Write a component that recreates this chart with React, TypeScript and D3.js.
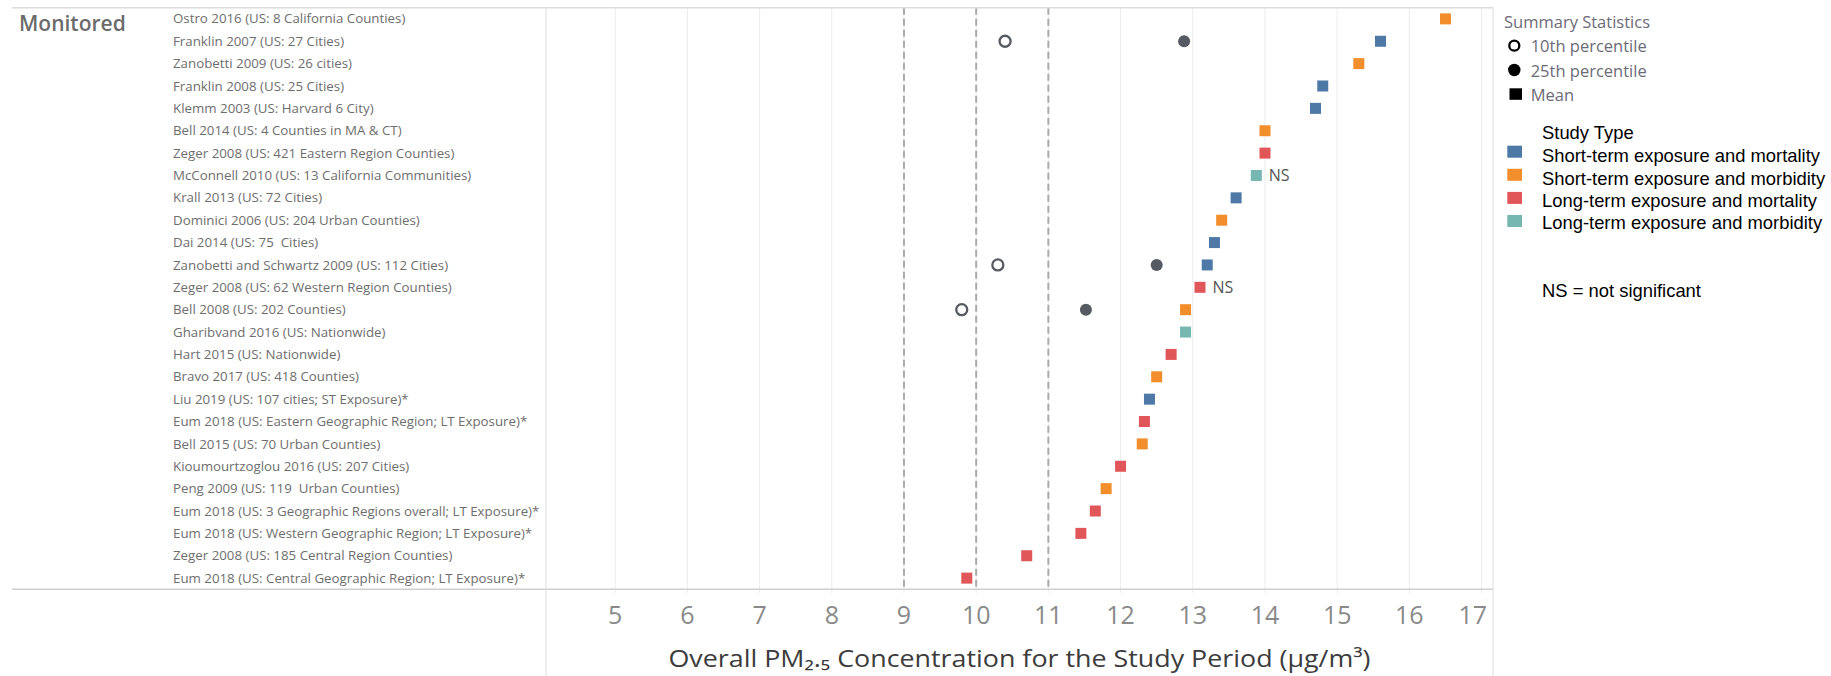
import React from "react";
import * as d3 from "d3";

const studies: string[] = [
  "Ostro 2016 (US: 8 California Counties)",
  "Franklin 2007 (US: 27 Cities)",
  "Zanobetti 2009 (US: 26 cities)",
  "Franklin 2008 (US: 25 Cities)",
  "Klemm 2003 (US: Harvard 6 City)",
  "Bell 2014 (US: 4 Counties in MA & CT)",
  "Zeger 2008 (US: 421 Eastern Region Counties)",
  "McConnell 2010 (US: 13 California Communities)",
  "Krall 2013 (US: 72 Cities)",
  "Dominici 2006 (US: 204 Urban Counties)",
  "Dai 2014 (US: 75  Cities)",
  "Zanobetti and Schwartz 2009 (US: 112 Cities)",
  "Zeger 2008 (US: 62 Western Region Counties)",
  "Bell 2008 (US: 202 Counties)",
  "Gharibvand 2016 (US: Nationwide)",
  "Hart 2015 (US: Nationwide)",
  "Bravo 2017 (US: 418 Counties)",
  "Liu 2019 (US: 107 cities; ST Exposure)*",
  "Eum 2018 (US: Eastern Geographic Region; LT Exposure)*",
  "Bell 2015 (US: 70 Urban Counties)",
  "Kioumourtzoglou 2016 (US: 207 Cities)",
  "Peng 2009 (US: 119  Urban Counties)",
  "Eum 2018 (US: 3 Geographic Regions overall; LT Exposure)*",
  "Eum 2018 (US: Western Geographic Region; LT Exposure)*",
  "Zeger 2008 (US: 185 Central Region Counties)",
  "Eum 2018 (US: Central Geographic Region; LT Exposure)*",
];

const meanValues: number[] = [
  16.5, 15.6, 15.3, 14.8, 14.7, 14.0, 14.0, 13.88, 13.6, 13.4, 13.3, 13.2, 13.1,
  12.9, 12.9, 12.7, 12.5, 12.4, 12.33, 12.3, 12.0, 11.8, 11.65, 11.45, 10.7, 9.87,
];

const studyTypes: string[] = [
  "Short-term exposure and mortality",
  "Short-term exposure and morbidity",
  "Long-term exposure and mortality",
  "Long-term exposure and morbidity",
];
const typeColors: string[] = ["#4e79a7", "#f28e2b", "#e15759", "#76b7b2"];

const studyTypeIndex: number[] = [
  1, 0, 1, 0, 0, 1, 2, 3, 0, 1, 0, 0, 2, 1, 3, 2, 1, 0, 2, 1, 2, 1, 2, 2, 2, 2,
];

const pctStudies: string[] = [
  "Franklin 2007 (US: 27 Cities)",
  "Zanobetti and Schwartz 2009 (US: 112 Cities)",
  "Bell 2008 (US: 202 Counties)",
];
const p10Values: number[] = [10.4, 10.3, 9.8];
const p25Values: number[] = [12.88, 12.5, 11.52];

const nsStudies: string[] = [
  "McConnell 2010 (US: 13 California Communities)",
  "Zeger 2008 (US: 62 Western Region Counties)",
];

const tickValues: number[] = [5, 6, 7, 8, 9, 10, 11, 12, 13, 14, 15, 16, 17];
const referenceLines: number[] = [9, 10, 11];

const summaryLabels: string[] = ["10th percentile", "25th percentile", "Mean"];

const W = 1831;
const H = 676;
const TAB = "'Open Sans', 'Noto Sans', sans-serif";
const ARIAL = "'Liberation Sans', Arial, sans-serif";

export default function App() {
  const plotLeft = 546;
  const plotRight = 1493;
  const top = 7.7;
  const bottom = 589.3;

  const x = d3.scaleLinear().domain([4.042, 17.158]).range([plotLeft, plotRight]);
  const y = d3.scaleBand<string>().domain(studies).range([top, bottom]).padding(0);
  const cy = (s: string) => (y(s) as number) + y.bandwidth() / 2;
  const sq = 11;

  return (
    <svg
      width={W}
      height={H}
      style={{ position: "absolute", left: 0, top: 0, background: "#fff" }}
    >
      {/* gridlines */}
      {tickValues.map((t) => (
        <line
          key={"g" + t}
          x1={x(t)}
          x2={x(t)}
          y1={top}
          y2={bottom + 4}
          stroke="#ececec"
          strokeWidth={1}
        />
      ))}
      {/* reference lines */}
      {referenceLines.map((r) => (
        <line
          key={"r" + r}
          x1={x(r)}
          x2={x(r)}
          y1={top}
          y2={bottom}
          stroke="#ababab"
          strokeWidth={2}
          strokeDasharray="7,4"
        />
      ))}
      {/* frame lines */}
      <line x1={12} x2={plotRight} y1={top} y2={top} stroke="#dcdcdc" strokeWidth={1.5} />
      <line x1={12} x2={plotRight} y1={bottom} y2={bottom} stroke="#cfcfcf" strokeWidth={1.5} />
      <line x1={plotLeft} x2={plotLeft} y1={top} y2={H} stroke="#dcdcdc" strokeWidth={1} />
      <line x1={plotRight} x2={plotRight} y1={top} y2={H} stroke="#dcdcdc" strokeWidth={1} />

      {/* pane header */}
      <text x={19} y={31} fontFamily={TAB} fontSize={21} fontWeight={600} fill="#6b6b6b">
        Monitored
      </text>

      {/* row labels */}
      {studies.map((s, i) => (
        <text
          key={"l" + i}
          x={173}
          y={cy(s) + 4.6}
          fontFamily={TAB}
          fontSize={13.3}
          fill="#6e6e6e"
          style={{ whiteSpace: "pre" }}
        >
          {s}
        </text>
      ))}

      {/* 10th percentile */}
      {pctStudies.map((s, i) => (
        <circle
          key={"p10" + i}
          cx={x(p10Values[i])}
          cy={cy(s)}
          r={5.5}
          fill="#fff"
          stroke="#555a63"
          strokeWidth={2.3}
        />
      ))}
      {/* 25th percentile */}
      {pctStudies.map((s, i) => (
        <circle key={"p25" + i} cx={x(p25Values[i])} cy={cy(s)} r={6} fill="#555a63" />
      ))}
      {/* means */}
      {studies.map((s, i) => (
        <rect
          key={"m" + i}
          x={x(meanValues[i]) - sq / 2}
          y={cy(s) - sq / 2}
          width={sq}
          height={sq}
          fill={typeColors[studyTypeIndex[i]]}
        />
      ))}
      {/* NS labels */}
      {nsStudies.map((s) => {
        const i = studies.indexOf(s);
        return (
          <text
            key={"ns" + i}
            x={x(meanValues[i]) + 12.5}
            y={cy(s) + 5.5}
            fontFamily={TAB}
            fontSize={16}
            fill="#555"
          >
            NS
          </text>
        );
      })}

      {/* x tick labels */}
      {tickValues.map((t, i) => {
        const last = i === tickValues.length - 1;
        return (
          <text
            key={"t" + t}
            x={last ? 1487 : x(t)}
            y={623.5}
            textAnchor={last ? "end" : "middle"}
            fontFamily={TAB}
            fontSize={25}
            fill="#8a8a8a"
          >
            {t}
          </text>
        );
      })}
      {/* x axis title */}
      <text
        x={(plotLeft + plotRight) / 2}
        y={666.5}
        textAnchor="middle"
        fontFamily={TAB}
        fontSize={23.5}
        fill="#3c3c3c"
        textLength={702}
        lengthAdjust="spacingAndGlyphs"
      >
        Overall PM₂.₅ Concentration for the Study Period (µg/m³)
      </text>

      {/* Legend: summary statistics */}
      <text x={1504} y={28.3} fontFamily={TAB} fontSize={16.5} fill="#6b6b78">
        Summary Statistics
      </text>
      {summaryLabels.map((lab, i) => {
        const ly = 45.7 + i * 24.3;
        return (
          <g key={"sl" + i}>
            {i === 0 && (
              <circle cx={1514.3} cy={ly} r={5} fill="#fff" stroke="#000" strokeWidth={2.3} />
            )}
            {i === 1 && <circle cx={1514.3} cy={ly} r={6.2} fill="#000" />}
            {i === 2 && <rect x={1509.5} y={ly - 6} width={12.5} height={11.5} fill="#000" />}
            <text x={1530.7} y={ly + 6.5} fontFamily={TAB} fontSize={16.5} fill="#6b6b78">
              {lab}
            </text>
          </g>
        );
      })}

      {/* Legend: study type */}
      <text x={1542} y={139.3} fontFamily={ARIAL} fontSize={18.4} fill="#000">
        Study Type
      </text>
      {studyTypes.map((st, i) => (
        <g key={"st" + i}>
          <rect
            x={1507.3}
            y={145.7 + i * 23.1}
            width={14.7}
            height={12}
            fill={typeColors[i]}
          />
          <text x={1542} y={162.3 + i * 22.35} fontFamily={ARIAL} fontSize={18.4} fill="#000">
            {st}
          </text>
        </g>
      ))}
      <text x={1542} y={296.7} fontFamily={ARIAL} fontSize={18.4} fill="#000">
        NS = not significant
      </text>
    </svg>
  );
}
